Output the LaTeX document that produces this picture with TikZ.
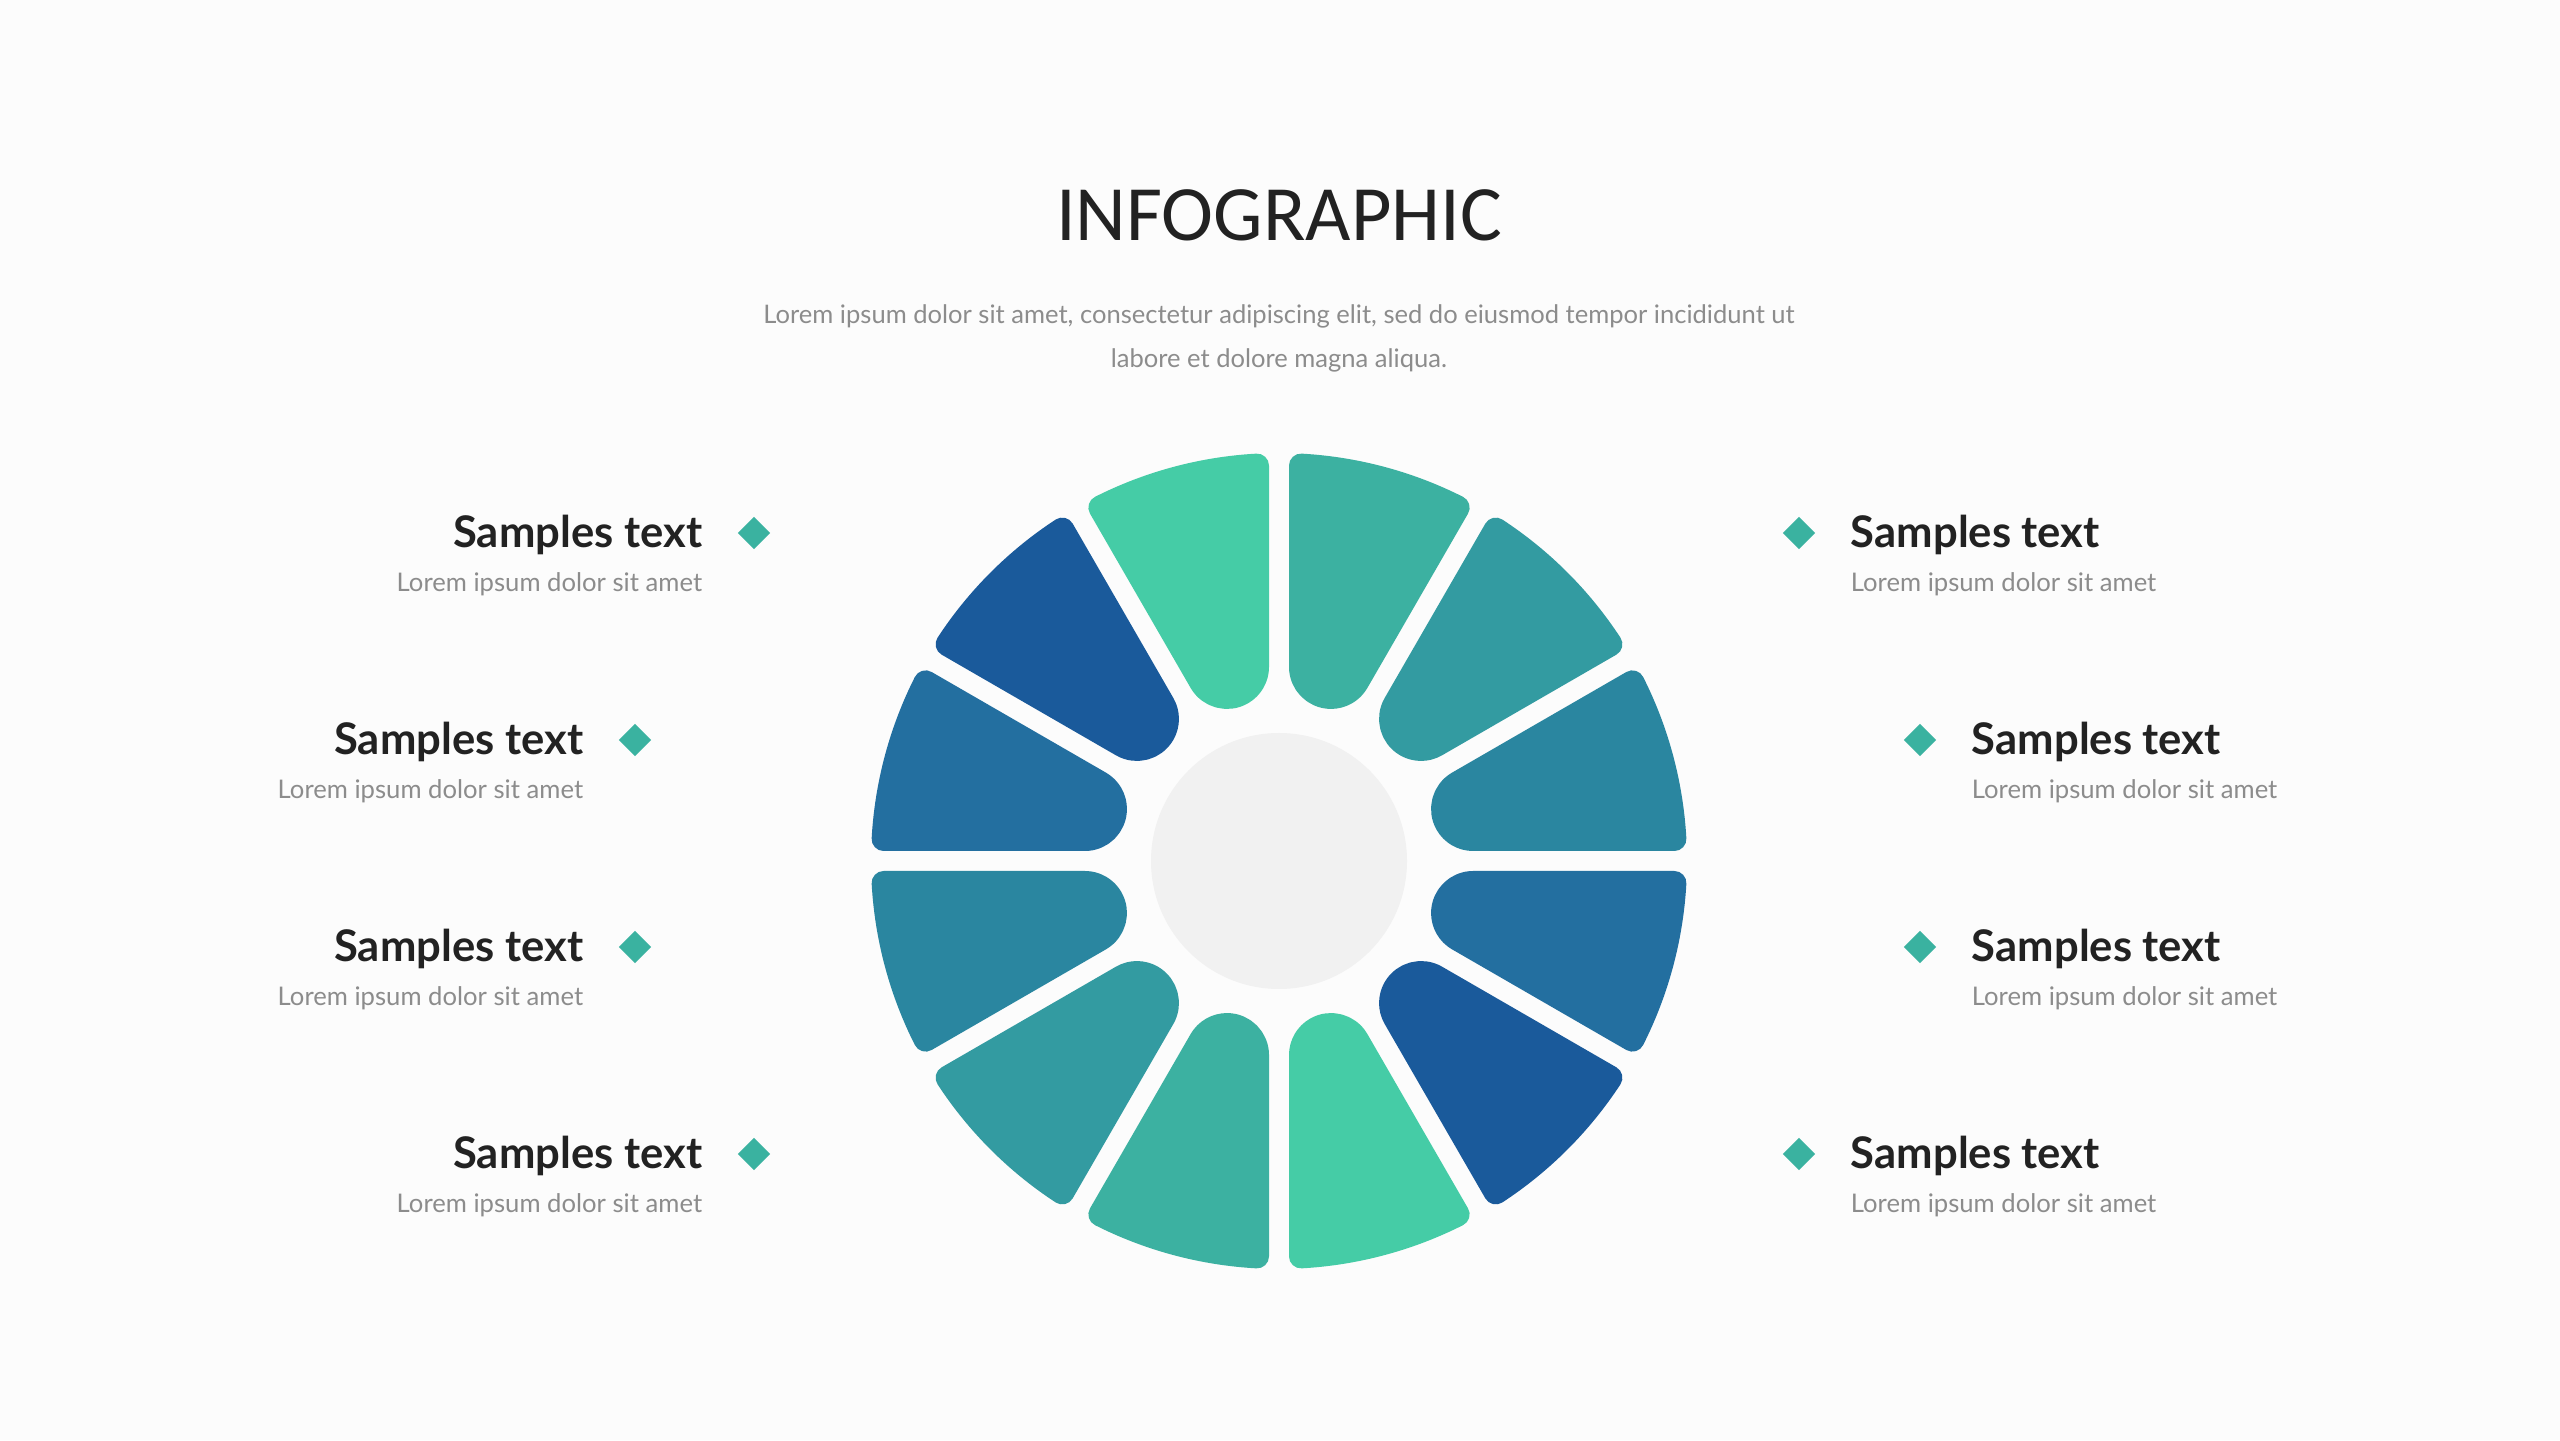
\documentclass[tikz,border=0pt]{standalone}
\usepackage{fontspec}
\setmainfont{Lato}
\newfontfamily\titlefont{Carlito}
\usepackage{tikz}
\usetikzlibrary{positioning,shapes.geometric}
\definecolor{wheelA}{HTML}{45CCA6}
\definecolor{wheelB}{HTML}{3CB1A1}
\definecolor{wheelC}{HTML}{339BA1}
\definecolor{wheelD}{HTML}{2A86A0}
\definecolor{wheelE}{HTML}{236FA0}
\definecolor{wheelF}{HTML}{1A5A9B}
\definecolor{dotcol}{HTML}{3AB2A0}
\definecolor{ink}{HTML}{222222}
\definecolor{greytext}{HTML}{8C8C8C}
\definecolor{hubgrey}{HTML}{F1F1F1}
\definecolor{paper}{HTML}{FCFCFC}
\tikzstyle{title} = [font=\titlefont\fontsize{22.3}{26}\selectfont, text=ink]
\tikzstyle{lead} = [font=\fontsize{7.27}{12.5}\selectfont, text=greytext, align=center]
\tikzstyle{head} = [font=\fontsize{12.4}{14}\selectfont\bfseries, text=ink, inner sep=0, text height=0.30cm, text depth=0.01cm]
\tikzstyle{desc} = [font=\fontsize{7.3}{8}\selectfont, text=greytext, inner sep=0, text height=0.19cm, text depth=0cm]
\tikzstyle{dot} = [diamond, fill=dotcol, inner sep=0, minimum size=0.33cm]
\tikzstyle{petal} = [line width=0.24cm, line join=round]

\begin{document}
\begin{tikzpicture}[auto, node distance=0.34cm]
    \fill [paper] (0,0) rectangle (25.6,14.4);
    \useasboundingbox (0,0) rectangle (25.6,14.4);

    \node [title] (title) at (12.79,12.25) {INFOGRAPHIC};
    \node [lead] (lead) at (12.79,11.02) {Lorem ipsum dolor sit amet, consectetur adipiscing elit, sed do eiusmod tempor incididunt ut\\labore et dolore magna aliqua.};

    \begin{scope}[shift={(12.79,5.79)}]
        % petal: sides 0.1 off the spokes, outer radius 4.08, tip radius 0.42, corners 0.12
        \foreach \ang/\col in {15/wheelD, 45/wheelC, 75/wheelB, 105/wheelA, 135/wheelF, 165/wheelE,
                               195/wheelD, 225/wheelC, 255/wheelB, 285/wheelA, 315/wheelF, 345/wheelE}
            \draw [petal, fill=\col, draw=\col, rotate=\ang]
                (1.9315,0.2898) arc [start angle=105, end angle=255, radius=0.30]
                -- (-11.815:3.96) arc [start angle=-11.815, end angle=11.815, radius=3.96] -- cycle;
        \node [circle, fill=hubgrey, minimum size=2.56cm] (hub) at (0,0) {};
    \end{scope}

    \node [dot] (dotL1) at (7.54,9.07) {};
    \node [head, left=of dotL1] (headL1) {Samples text};
    \node [desc, below left=0.23cm and 0cm of headL1.south east] (descL1) {Lorem ipsum dolor sit amet};

    \node [dot] (dotL2) at (6.35,7.00) {};
    \node [head, left=of dotL2] (headL2) {Samples text};
    \node [desc, below left=0.23cm and 0cm of headL2.south east] (descL2) {Lorem ipsum dolor sit amet};

    \node [dot] (dotL3) at (6.35,4.93) {};
    \node [head, left=of dotL3] (headL3) {Samples text};
    \node [desc, below left=0.23cm and 0cm of headL3.south east] (descL3) {Lorem ipsum dolor sit amet};

    \node [dot] (dotL4) at (7.54,2.86) {};
    \node [head, left=of dotL4] (headL4) {Samples text};
    \node [desc, below left=0.23cm and 0cm of headL4.south east] (descL4) {Lorem ipsum dolor sit amet};

    \node [dot] (dotR1) at (17.99,9.07) {};
    \node [head, right=of dotR1] (headR1) {Samples text};
    \node [desc, below right=0.23cm and 0cm of headR1.south west] (descR1) {Lorem ipsum dolor sit amet};

    \node [dot] (dotR2) at (19.20,7.00) {};
    \node [head, right=of dotR2] (headR2) {Samples text};
    \node [desc, below right=0.23cm and 0cm of headR2.south west] (descR2) {Lorem ipsum dolor sit amet};

    \node [dot] (dotR3) at (19.20,4.93) {};
    \node [head, right=of dotR3] (headR3) {Samples text};
    \node [desc, below right=0.23cm and 0cm of headR3.south west] (descR3) {Lorem ipsum dolor sit amet};

    \node [dot] (dotR4) at (17.99,2.86) {};
    \node [head, right=of dotR4] (headR4) {Samples text};
    \node [desc, below right=0.23cm and 0cm of headR4.south west] (descR4) {Lorem ipsum dolor sit amet};
\end{tikzpicture}
\end{document}
